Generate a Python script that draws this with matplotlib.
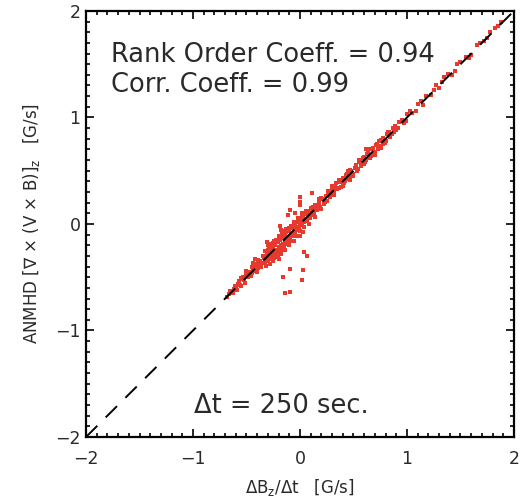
import matplotlib
matplotlib.use("Agg")
import matplotlib.pyplot as plt
from matplotlib.ticker import MultipleLocator

plt.rcParams['font.family'] = ['DejaVu Sans']
plt.rcParams['mathtext.fontset'] = 'dejavusans'
plt.rcParams['mathtext.default'] = 'regular'

# --- data ---
x_band = [-0.68, -0.65, -0.62, -0.60, -0.58, -0.56, -0.54, -0.52, -0.50, -0.49, -0.47, -0.45, -0.44, -0.42,
          -0.40, -0.39, -0.37, -0.36, -0.34, -0.33, -0.31, -0.30, -0.29, -0.28, -0.27, -0.26, -0.25, -0.24,
          -0.23, -0.22, -0.21, -0.20, -0.19, -0.18, -0.17, -0.16, -0.15, -0.14, -0.13, -0.12, -0.11, -0.10,
          -0.09, -0.08, -0.07, -0.06, -0.05, -0.04, -0.03, -0.02, -0.01, 0.00, 0.01, 0.02, 0.03, 0.04, 0.05,
          0.06, 0.07, 0.08, 0.09, 0.10, 0.12, 0.13, 0.15, 0.16, 0.18, 0.19, 0.21, 0.22, 0.24, 0.25, 0.27,
          0.28, 0.30, 0.31, 0.33, 0.35, 0.37, 0.38, 0.40, 0.42, 0.44, 0.46, 0.48, 0.50, 0.52, 0.54, 0.56,
          0.58, 0.60, 0.62, 0.64, 0.66, 0.68, 0.70, 0.72, 0.75, 0.78, 0.80, 0.83, 0.86, 0.89, 0.92, 0.95,
          0.99, 1.03, 1.08, 1.13, 1.18, 1.22, 1.27, 1.33, 1.38, 1.42, 1.47, 1.55, 1.60, 1.65, 1.72, 1.78,
          1.85, 1.88]
y_band = [-0.69, -0.63, -0.61, -0.60, -0.56, -0.57, -0.52, -0.53, -0.48, -0.50, -0.45, -0.46, -0.42, -0.43,
          -0.38, -0.41, -0.35, -0.37, -0.32, -0.34, -0.29, -0.31, -0.26, -0.29, -0.25, -0.27, -0.22, -0.25,
          -0.20, -0.24, -0.17, -0.22, -0.15, -0.20, -0.13, -0.19, -0.10, -0.16, -0.08, -0.14, -0.06, -0.12,
          -0.04, -0.10, -0.02, -0.08, 0.00, -0.06, 0.02, -0.03, 0.04, -0.01, 0.06, 0.01, 0.08, 0.02, 0.09,
          0.04, 0.10, 0.06, 0.12, 0.08, 0.14, 0.10, 0.17, 0.13, 0.20, 0.16, 0.23, 0.19, 0.26, 0.22, 0.29,
          0.25, 0.32, 0.28, 0.35, 0.33, 0.39, 0.35, 0.43, 0.40, 0.47, 0.44, 0.50, 0.47, 0.55, 0.52, 0.59,
          0.56, 0.63, 0.60, 0.67, 0.64, 0.71, 0.68, 0.75, 0.73, 0.81, 0.78, 0.86, 0.84, 0.92, 0.90, 0.98,
          0.97, 1.06, 1.06, 1.15, 1.20, 1.21, 1.30, 1.33, 1.41, 1.40, 1.50, 1.57, 1.59, 1.68, 1.72, 1.80,
          1.86, 1.90]
x_band2 = [-0.66, -0.63, -0.61, -0.59, -0.57, -0.55, -0.53, -0.51, -0.48, -0.46, -0.43, -0.41, -0.38, -0.36,
           -0.50, -0.44, 0.14, 0.17, 0.20, 0.23, 0.26, 0.29, 0.32, 0.34, 0.36, 0.39, 0.41, 0.43, 0.45, 0.47,
           0.49, 0.51, 0.53, 0.55, 0.57, 0.59, 0.61, 0.63, 0.65, 0.67, 0.69, 0.71, 0.73, 0.76, 0.79, 0.81,
           0.84, 0.87, 0.90, 0.93, 0.97, 1.00, 1.05, 1.10, 0.30, 0.47, 0.62, 0.76, 1.15, 1.25, 1.30, 1.35,
           1.45, 1.50, 1.58, 1.68, 1.75, 1.82]
y_band2 = [-0.66, -0.65, -0.58, -0.62, -0.54, -0.58, -0.50, -0.55, -0.47, -0.49, -0.40, -0.44, -0.36, -0.40,
           -0.44, -0.37, 0.18, 0.15, 0.24, 0.21, 0.28, 0.30, 0.31, 0.38, 0.34, 0.41, 0.38, 0.46, 0.42, 0.51,
           0.46, 0.53, 0.50, 0.58, 0.54, 0.62, 0.58, 0.66, 0.62, 0.70, 0.66, 0.74, 0.70, 0.79, 0.76, 0.84,
           0.82, 0.90, 0.88, 0.96, 0.95, 1.03, 1.04, 1.13, 0.36, 0.41, 0.70, 0.71, 1.12, 1.26, 1.28, 1.38,
           1.44, 1.52, 1.56, 1.70, 1.75, 1.84]
x_blob = [-0.34, -0.33, -0.31, -0.30, -0.29, -0.28, -0.27, -0.26, -0.25, -0.24, -0.23, -0.22, -0.21, -0.20,
          -0.19, -0.18, -0.17, -0.16, -0.15, -0.14, -0.13, -0.12, -0.11, -0.10, -0.09, -0.08, -0.07, -0.06,
          -0.05, -0.04, -0.03, -0.02, -0.01, 0.00, 0.01, 0.02, 0.03, 0.04, 0.05, 0.06, 0.07, 0.08, 0.09,
          0.10, 0.11, 0.12, -0.27, -0.24, -0.20, -0.17, -0.13, -0.21, -0.18, -0.14, -0.10, -0.06, 0.00,
          0.03, -0.25, -0.33, -0.18, -0.28]
y_blob = [-0.30, -0.37, -0.25, -0.35, -0.23, -0.33, -0.20, -0.30, -0.18, -0.32, -0.26, -0.16, -0.28, -0.13,
          -0.25, -0.11, -0.23, -0.12, -0.21, -0.09, -0.18, -0.05, -0.16, -0.07, -0.13, -0.02, -0.11, -0.04,
          -0.09, 0.02, -0.05, 0.04, -0.04, 0.06, 0.00, 0.08, 0.03, 0.10, 0.05, 0.11, 0.03, 0.12, 0.06,
          0.14, 0.09, 0.16, -0.19, -0.16, -0.11, -0.08, -0.05, -0.31, -0.28, -0.24, -0.20, -0.16, -0.11,
          -0.08, -0.35, -0.25, -0.06, -0.38]
x_cluster = [-0.30, -0.28, -0.26, -0.24, -0.22, -0.20, -0.18, -0.16, -0.14, -0.12, -0.10, -0.08, -0.06,
             -0.04, -0.02, 0.00, 0.02, 0.04, 0.06, 0.08, -0.35, -0.32, -0.45, -0.40, -0.55, 0.10, 0.14,
             0.18, 0.20, 0.26, 0.32, 0.36, 0.40, 0.45, 0.50, 0.55, 0.60, 0.65, 0.70, 0.74, 0.78, 0.82, 0.88]
y_cluster = [-0.24, -0.22, -0.33, -0.30, -0.15, -0.28, -0.11, -0.24, -0.07, -0.19, -0.04, -0.16, 0.02,
             -0.11, 0.06, -0.07, 0.10, -0.03, 0.12, 0.00, -0.30, -0.39, -0.40, -0.45, -0.51, 0.15, 0.07,
             0.23, 0.14, 0.31, 0.27, 0.41, 0.36, 0.50, 0.45, 0.60, 0.56, 0.70, 0.65, 0.78, 0.75, 0.86, 0.86]
x_out = [-0.14, 0.02, -0.09, -0.16, -0.09, 0.03, 0.04, 0.00, 0.00, 0.00, 0.11, -0.30, -0.42, -0.05, 0.07,
         -0.20, -0.31, -0.39, -0.11, -0.09, -0.19]
y_out = [-0.65, -0.53, -0.42, -0.50, -0.64, -0.43, -0.26, 0.18, 0.21, 0.25, 0.29, -0.20, -0.33, 0.10, -0.30,
         -0.33, -0.17, -0.34, 0.08, 0.13, -0.02]

xs = x_band + x_band2 + x_blob + x_cluster + x_out
ys = y_band + y_band2 + y_blob + y_cluster + y_out

fig = plt.figure(figsize=(5.2, 4.97), dpi=100)
ax = fig.add_axes([0.1654, 0.1207, 0.8230, 0.8573])

ax.scatter(xs, ys, s=7, marker='s', color='#e8392e', linewidths=0, zorder=2)
ax.plot([-2, 2], [-2, 2], color='black', lw=1.4, dashes=(8.2, 6.1), zorder=3)

ax.set_xlim(-2, 2)
ax.set_ylim(-2, 2)
ax.xaxis.set_major_locator(MultipleLocator(1))
ax.yaxis.set_major_locator(MultipleLocator(1))
ax.xaxis.set_minor_locator(MultipleLocator(0.1))
ax.yaxis.set_minor_locator(MultipleLocator(0.1))
ax.tick_params(which='both', direction='in', top=True, right=True, width=1.2, labelcolor='#2a2a2a')
ax.tick_params(which='major', length=6, labelsize=12.5)
ax.tick_params(axis='x', which='major', pad=9)
ax.tick_params(axis='y', which='major', pad=4)
ax.tick_params(which='minor', length=3)
for s in ax.spines.values():
    s.set_linewidth(1.6)

ax.set_xlabel('ΔB$_z$/Δt   [G/s]', fontsize=12, labelpad=7, color='#2a2a2a')
ax.set_ylabel('ANMHD [$\\nabla$ × (V × B)]$_z$   [G/s]', fontsize=12, labelpad=9, color='#2a2a2a')

ax.text(-1.77, 1.52, 'Rank Order Coeff. = 0.94', fontsize=18.5, color='#2a2a2a', va='baseline')
ax.text(-1.77, 1.236, 'Corr. Coeff. = 0.99', fontsize=18.5, color='#2a2a2a', va='baseline')
ax.text(-0.99, -1.774, 'Δt = 250 sec.', fontsize=18.5, color='#2a2a2a', va='baseline')

fig.savefig('out.png', dpi=100)
